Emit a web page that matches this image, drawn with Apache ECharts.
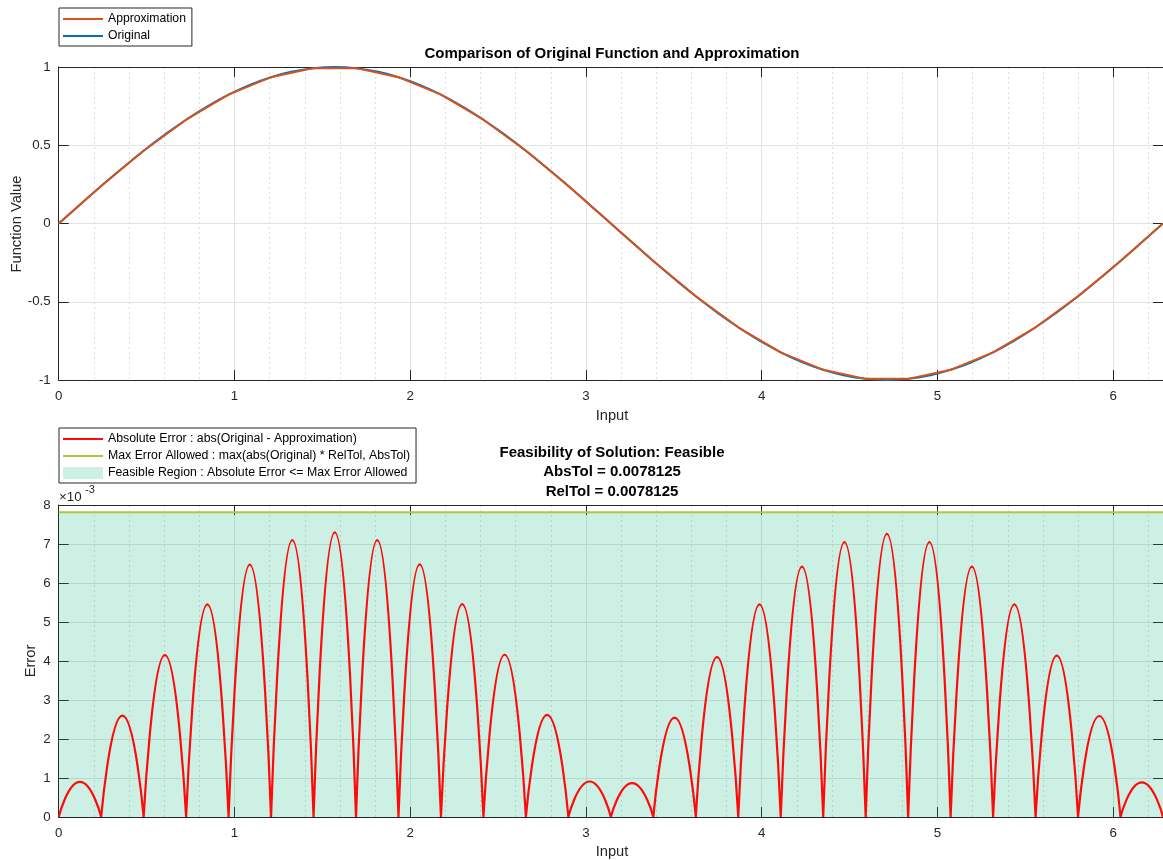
<!DOCTYPE html>
<html>
<head>
<meta charset="utf-8">
<style>
  html, body { margin: 0; padding: 0; background: #ffffff; }
  #chart { width: 1163px; height: 860px; }
</style>
<script src="https://cdn.jsdelivr.net/npm/echarts@6/dist/echarts.min.js"></script>
</head>
<body>
<div id="chart"></div>
<script>
// ---------------- DATA ----------------
const xMin = 0;
const xMax = 6.2832;

// Lookup-table breakpoints and approximation values
const breakpoints = [0, 0.2417, 0.4833, 0.7250, 0.9666, 1.2083, 1.4500, 1.6916, 1.9333, 2.1750, 2.4166, 2.6583, 2.8999, 3.1416, 3.3832, 3.6249, 3.8666, 4.1082, 4.3499, 4.5915, 4.8332, 5.0748, 5.3165, 5.5582, 5.7998, 6.0415, 6.2832];
const approximation = [0, 0.2393, 0.4647, 0.6631, 0.8230, 0.9350, 0.9927, 0.9927, 0.9350, 0.8230, 0.6631, 0.4647, 0.2393, 0, -0.2393, -0.4647, -0.6631, -0.8230, -0.9350, -0.9927, -0.9927, -0.9350, -0.8230, -0.6631, -0.4647, -0.2393, 0];

// Points midway between breakpoints
const midpoints = [0.1208, 0.3625, 0.6042, 0.8458, 1.0875, 1.3292, 1.5708, 1.8124, 2.0541, 2.2958, 2.5374, 2.7791, 3.0208, 3.2624, 3.5041, 3.7457, 3.9874, 4.2291, 4.4707, 4.7124, 4.9541, 5.1957, 5.4374, 5.6790, 5.9207, 6.1624];
const originalAtMidpoints = [0.1205, 0.3546, 0.5681, 0.7485, 0.8855, 0.9709, 1.0000, 0.9709, 0.8855, 0.7485, 0.5681, 0.3546, 0.1205, -0.1205, -0.3546, -0.5681, -0.7485, -0.8855, -0.9709, -1.0000, -0.9709, -0.8855, -0.7485, -0.5681, -0.3546, -0.1205];
// Peak absolute error in each interval
const peakError = [0.00090, 0.00260, 0.00415, 0.00545, 0.00647, 0.00710, 0.00730, 0.00710, 0.00648, 0.00546, 0.00416, 0.00262, 0.00091, 0.00087, 0.00255, 0.00410, 0.00545, 0.00642, 0.00705, 0.00726, 0.00705, 0.00642, 0.00545, 0.00414, 0.00259, 0.00089];

const maxErrorAllowed = 0.0078125;

const topYTicks = { min: -1, max: 1, interval: 0.5 };
const botYTicks = { min: 0, max: 0.008, interval: 0.001 };

// ---------------- BUILD ----------------
const FONT = "'Liberation Sans', Arial, Helvetica, sans-serif";
const AXC = '#262626';
const LINE_ICON = 'path://M0,0L40,0L40,2L0,2Z';
const REGION = 'rgba(0,180,120,0.2)';

const originalData = [];
for (let i = 0; i < breakpoints.length; i++) {
  originalData.push([breakpoints[i], approximation[i]]);
  if (i < midpoints.length) originalData.push([midpoints[i], originalAtMidpoints[i]]);
}
const approxData = breakpoints.map((x, i) => [x, approximation[i]]);

const errorData = [];
for (let i = 0; i < midpoints.length; i++) {
  errorData.push([breakpoints[i], 0]);
  errorData.push([midpoints[i], peakError[i]]);
  errorData.push([breakpoints[i + 1], 0]);
  if (i < midpoints.length - 1) errorData.push([breakpoints[i + 1], '-']);
}
const limitData = [[xMin, maxErrorAllowed], [xMax, maxErrorAllowed]];

const GRID_LEFT = 58.7, GRID_W = 1107.8;
const grids = [
  { left: GRID_LEFT, top: 67, width: GRID_W, height: 313 },
  { left: GRID_LEFT, top: 505, width: GRID_W, height: 312 }
];

function mainX(gi) {
  return {
    type: 'value', gridIndex: gi, min: xMin, max: xMax, interval: 1, position: 'bottom',
    axisLine: { show: true, onZero: false, lineStyle: { color: AXC, width: 1 } },
    axisTick: { show: true, inside: true, length: 10, lineStyle: { color: AXC } },
    axisLabel: { show: true, showMaxLabel: false, margin: 10, fontSize: 13.3, color: AXC, fontFamily: FONT,
      formatter: v => (Math.abs(v - Math.round(v)) < 1e-9 ? String(Math.round(v)) : '') },
    splitLine: { show: true, lineStyle: { color: '#e2e2e2', width: 1 } }
  };
}
function topX(gi) {
  return {
    type: 'value', gridIndex: gi, min: xMin, max: xMax, interval: 1, position: 'top',
    axisLine: { show: true, onZero: false, lineStyle: { color: AXC, width: 1 } },
    axisTick: { show: true, inside: true, length: 10, lineStyle: { color: AXC } },
    axisLabel: { show: false }, splitLine: { show: false }
  };
}
function minorX(gi) {
  return {
    type: 'value', gridIndex: gi, min: xMin, max: xMax, interval: 0.2, position: 'bottom',
    axisLine: { show: false }, axisTick: { show: false }, axisLabel: { show: false },
    splitLine: { show: true, lineStyle: { color: '#dcdcdc', width: 1, type: [2, 3] } }
  };
}
function leftY(gi, t, fmt) {
  return {
    type: 'value', gridIndex: gi, min: t.min, max: t.max, interval: t.interval, position: 'left',
    axisLine: { show: true, onZero: false, lineStyle: { color: AXC, width: 1 } },
    axisTick: { show: true, inside: true, length: 10, lineStyle: { color: AXC } },
    axisLabel: { show: true, margin: 8, fontSize: 13.3, color: AXC, fontFamily: FONT, formatter: fmt },
    splitLine: { show: true, lineStyle: { color: '#e2e2e2', width: 1 } }
  };
}
function rightY(gi, t) {
  return {
    type: 'value', gridIndex: gi, min: t.min, max: t.max, interval: t.interval, position: 'right',
    axisLine: { show: true, onZero: false, lineStyle: { color: AXC, width: 1 } },
    axisTick: { show: true, inside: true, length: 10, lineStyle: { color: AXC } },
    axisLabel: { show: false }, splitLine: { show: false }
  };
}

const option = {
  animation: false,
  backgroundColor: '#ffffff',
  grid: grids,
  xAxis: [minorX(0), mainX(0), topX(0), minorX(1), mainX(1), topX(1)],
  yAxis: [
    leftY(0, topYTicks, v => String(v)),
    rightY(0, topYTicks),
    leftY(1, botYTicks, v => String(Math.round(v * 1000))),
    rightY(1, botYTicks)
  ],
  legend: [
    {
      left: 59, top: 8, orient: 'vertical', selectedMode: false,
      itemWidth: 40, itemHeight: 12, itemGap: 5, symbolKeepAspect: true,
      padding: [5, 6, 4, 4],
      borderColor: AXC, borderWidth: 1, backgroundColor: '#fff',
      textStyle: { fontSize: 12.2, color: '#000', fontFamily: FONT },
      data: [
        { name: 'Approximation', icon: LINE_ICON, itemStyle: { color: '#D95319' } },
        { name: 'Original', icon: LINE_ICON, itemStyle: { color: '#0072BD' } }
      ]
    },
    {
      left: 59, top: 428, orient: 'vertical', selectedMode: false,
      itemWidth: 40, itemHeight: 12, itemGap: 5, symbolKeepAspect: true,
      padding: [5, 6, 4, 4],
      borderColor: AXC, borderWidth: 1, backgroundColor: '#fff',
      textStyle: { fontSize: 12.3, color: '#000', fontFamily: FONT },
      data: [
        { name: 'Absolute Error : abs(Original - Approximation)', icon: LINE_ICON, itemStyle: { color: '#ff0a0a' } },
        { name: 'Max Error Allowed : max(abs(Original) * RelTol, AbsTol)', icon: LINE_ICON, itemStyle: { color: '#a8c83a' } },
        { name: 'Feasible Region : Absolute Error <= Max Error Allowed', icon: 'rect',
          itemStyle: { color: REGION } }
      ]
    }
  ],
  series: [
    {
      name: 'Original', type: 'line', xAxisIndex: 1, yAxisIndex: 0,
      data: originalData, smooth: 0.5, showSymbol: false, symbol: 'none',
      lineStyle: { color: '#0072BD', width: 2 }, itemStyle: { color: '#0072BD' }, z: 3
    },
    {
      name: 'Approximation', type: 'line', xAxisIndex: 1, yAxisIndex: 0,
      data: approxData, showSymbol: false, symbol: 'none',
      lineStyle: { color: '#D95319', width: 2 }, itemStyle: { color: '#D95319' }, z: 4
    },
    {
      name: 'Feasible Region : Absolute Error <= Max Error Allowed', type: 'line', xAxisIndex: 4, yAxisIndex: 2,
      data: limitData, showSymbol: false, symbol: 'none',
      lineStyle: { width: 0, color: REGION },
      itemStyle: { color: REGION },
      areaStyle: { color: REGION, opacity: 1, origin: 'start' }, z: 2
    },
    {
      name: 'Max Error Allowed : max(abs(Original) * RelTol, AbsTol)', type: 'line', xAxisIndex: 4, yAxisIndex: 2,
      data: limitData, showSymbol: false, symbol: 'none',
      lineStyle: { color: '#a8c83a', width: 2 }, itemStyle: { color: '#a8c83a' }, z: 3
    },
    {
      name: 'Absolute Error : abs(Original - Approximation)', type: 'line', xAxisIndex: 4, yAxisIndex: 2,
      data: errorData, smooth: 0.58, connectNulls: false, showSymbol: false, symbol: 'none',
      lineStyle: { color: '#ff0a0a', width: 2.2 }, itemStyle: { color: '#ff0a0a' }, z: 4
    }
  ],
  graphic: [
    { type: 'text', x: 612, y: 54, style: { text: 'Comparison of Original Function and Approximation',
      fontSize: 15, fontWeight: 'bold', fontFamily: FONT, fill: '#000', align: 'center', verticalAlign: 'middle' } },
    { type: 'text', x: 612, y: 472, style: { text: 'Feasibility of Solution: Feasible\nAbsTol = 0.0078125\nRelTol = 0.0078125',
      fontSize: 15, fontWeight: 'bold', fontFamily: FONT, fill: '#000', align: 'center', verticalAlign: 'middle', lineHeight: 19.5 } },
    { type: 'text', x: 612, y: 416, style: { text: 'Input', fontSize: 14.7, fontFamily: FONT, fill: AXC, align: 'center', verticalAlign: 'middle' } },
    { type: 'text', x: 612, y: 852, style: { text: 'Input', fontSize: 14.7, fontFamily: FONT, fill: AXC, align: 'center', verticalAlign: 'middle' } },
    { type: 'text', x: 17, y: 224, rotation: Math.PI / 2, style: { text: 'Function Value', fontSize: 14.7, fontFamily: FONT, fill: AXC, align: 'center', verticalAlign: 'middle' } },
    { type: 'text', x: 31, y: 661, rotation: Math.PI / 2, style: { text: 'Error', fontSize: 14.7, fontFamily: FONT, fill: AXC, align: 'center', verticalAlign: 'middle' } },
    { type: 'text', x: 59, y: 497, style: { text: '×10', fontSize: 13.3, fontFamily: FONT, fill: AXC, align: 'left', verticalAlign: 'middle' } },
    { type: 'text', x: 85, y: 490, style: { text: '-3', fontSize: 11, fontFamily: FONT, fill: AXC, align: 'left', verticalAlign: 'middle' } }
  ]
};

const chart = echarts.init(document.getElementById('chart'), null, { renderer: 'canvas' });
chart.setOption(option);
</script>
</body>
</html>
